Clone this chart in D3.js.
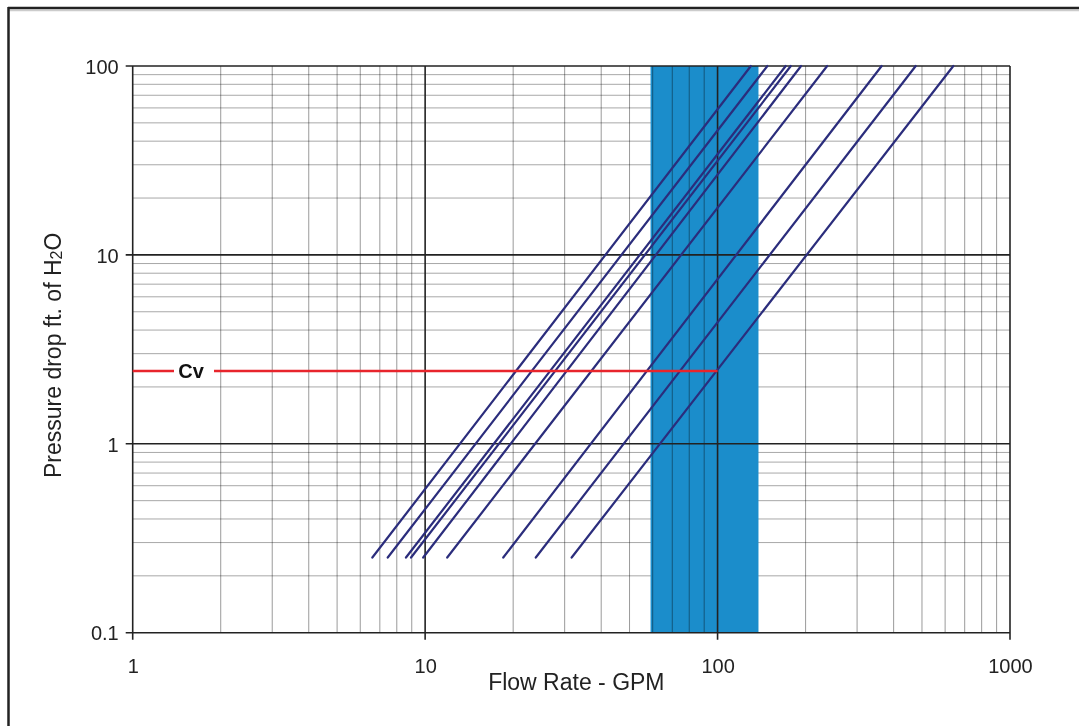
<!DOCTYPE html>
<html><head><meta charset="utf-8">
<script src="https://cdn.jsdelivr.net/npm/d3@7"></script>
<style>
body{margin:0;background:#fff;}
svg{display:block;font-family:"Liberation Sans",Arial,sans-serif;}
</style></head>
<body><svg id="c" width="1079" height="726"></svg>
<script>
// Data
const lineStartFlow = [6.6, 7.45, 8.6, 8.95, 9.85, 11.9, 18.5, 23.9, 31.7]; // GPM at 0.25 ft
const lineEndFlow   = [130, 148, 171, 178, 193, 237, 364, 476, 640];   // GPM at 100 ft
const lineStartP = 0.25;
const lineEndP = 100;
const bandRange = [59, 138];
const cvValue = 2.43;
const cvFlow = 100;
const xTicks = [1, 10, 100, 1000];
const yTicks = [0.1, 1, 10, 100];

const svg = d3.select("#c");
const L = 132.7, R = 1010, T = 66, B = 632.7;
const x = d3.scaleLog().domain([1, 1000]).range([L, R]);
const y = d3.scaleLog().domain([0.1, 100]).range([B, T]);

// outer frame
svg.append("line").attr("x1", 8).attr("x2", 1079).attr("y1", 10.5).attr("y2", 10.5).attr("stroke", "#ccc").attr("stroke-width", 1.5);
svg.append("line").attr("x1", 8).attr("x2", 1079).attr("y1", 8).attr("y2", 8).attr("stroke", "#222").attr("stroke-width", 2.5);
svg.append("line").attr("x1", 8.5).attr("x2", 8.5).attr("y1", 7).attr("y2", 726).attr("stroke", "#222").attr("stroke-width", 2.5);

// minor values
const minors = [];
for (let d = 0.1; d < 1000; d *= 10) for (let k = 2; k <= 9; k++) minors.push(+(d * k).toPrecision(3));
const xMinor = minors.filter(v => v > 1 && v < 1000);
const yMinor = minors.filter(v => v > 0.1 && v < 100);

const g = svg.append("g");
// minor horizontal
g.selectAll(".hm").data(yMinor).join("line")
  .attr("x1", L).attr("x2", R).attr("y1", d => y(d)).attr("y2", d => y(d))
  .attr("stroke", "#a8a8a8").attr("stroke-width", 1);

// band
g.append("rect").attr("x", x(bandRange[0])).attr("width", x(bandRange[1]) - x(bandRange[0]))
  .attr("y", T).attr("height", B - T).attr("fill", "#1b8dcb");

// minor vertical
g.selectAll(".vm").data(xMinor).join("line")
  .attr("x1", d => x(d)).attr("x2", d => x(d)).attr("y1", T).attr("y2", B)
  .attr("stroke", "#9a9a9a").attr("stroke-width", 1).style("mix-blend-mode", "multiply");

// major grid
g.selectAll(".vM").data(xTicks).join("line")
  .attr("x1", d => x(d)).attr("x2", d => x(d)).attr("y1", T).attr("y2", B + 7)
  .attr("stroke", "#222").attr("stroke-width", 1.6);
g.selectAll(".hM").data(yTicks).join("line")
  .attr("x1", L - 7).attr("x2", R).attr("y1", d => y(d)).attr("y2", d => y(d))
  .attr("stroke", "#222").attr("stroke-width", 1.6);

// axes labels via d3 axes (no lines)
const fmt = d => (d < 1 ? "0.1" : String(d));
const xa = svg.append("g").attr("transform", `translate(0,${B})`)
  .call(d3.axisBottom(x).tickValues(xTicks).tickFormat(fmt).tickSize(0).tickPadding(26));
const ya = svg.append("g").attr("transform", `translate(${L},0)`)
  .call(d3.axisLeft(y).tickValues(yTicks).tickFormat(fmt).tickSize(0).tickPadding(14));
[xa, ya].forEach(a => {
  a.select(".domain").remove();
  a.selectAll("line").remove();
  a.selectAll("text").attr("font-size", 20).attr("fill", "#222").attr("font-family", "Liberation Sans, Arial, sans-serif");
});
ya.selectAll("text").attr("dy", "0.36em");

// flow lines
g.selectAll(".fl").data(lineStartFlow.map((s, i) => [[s, lineStartP], [lineEndFlow[i], lineEndP]])).join("path")
  .attr("d", d => d3.line().x(p => x(p[0])).y(p => y(p[1]))(d))
  .attr("fill", "none").attr("stroke", "#2b2d7c").attr("stroke-width", 2.2).attr("stroke-linecap", "round");

// Cv line
svg.append("line").attr("x1", L).attr("x2", x(cvFlow)).attr("y1", y(cvValue)).attr("y2", y(cvValue))
  .attr("stroke", "#e8252c").attr("stroke-width", 2.5);
svg.append("rect").attr("x", 174).attr("y", y(cvValue) - 12).attr("width", 40).attr("height", 24).attr("fill", "#fff");
svg.append("text").attr("x", 191).attr("y", y(cvValue) + 7).attr("text-anchor", "middle")
  .attr("font-size", 20).attr("font-weight", "bold").attr("fill", "#111").text("Cv");

// axis titles
svg.append("text").attr("x", (L + R) / 2 + 5).attr("y", 690).attr("text-anchor", "middle")
  .attr("font-size", 23).attr("fill", "#222").text("Flow Rate - GPM");
const yt = svg.append("text").attr("transform", `translate(61,${(T + B) / 2 + 6}) rotate(-90)`)
  .attr("text-anchor", "middle").attr("font-size", 23).attr("fill", "#222");
yt.append("tspan").text("Pressure drop ft. of H");
yt.append("tspan").attr("font-size", 16).attr("dy", 1).text("2");
yt.append("tspan").attr("dy", -1).text("O");
</script></body></html>
